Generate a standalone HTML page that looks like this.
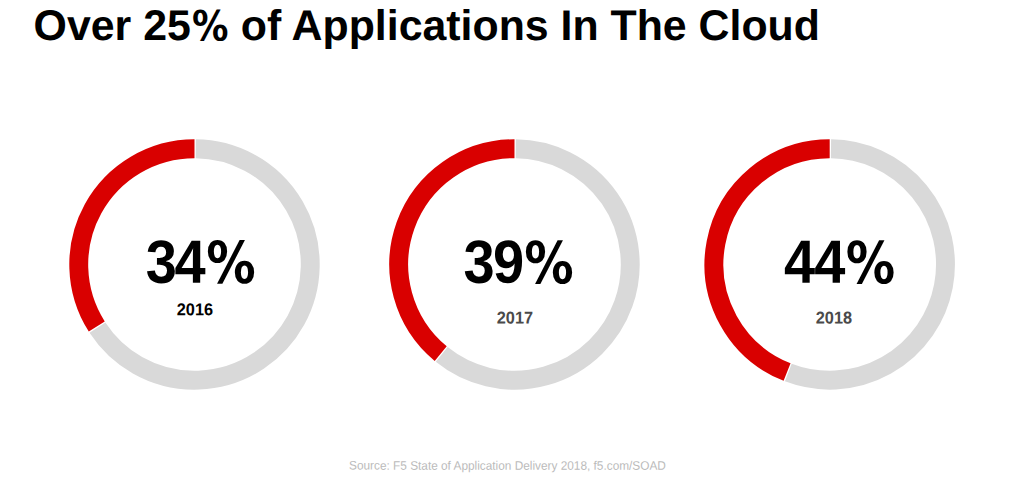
<!DOCTYPE html>
<html>
<head>
<meta charset="utf-8">
<title>Over 25% of Applications In The Cloud</title>
<style>
html,body{margin:0;padding:0;background:#fff;}
body{width:1024px;height:480px;overflow:hidden;}
svg{display:block;}
text{font-family:"Liberation Sans",Arial,sans-serif;white-space:pre;text-rendering:geometricPrecision;}
text.pc{font-family:"DejaVu Sans Condensed","DejaVu Sans",sans-serif;font-stretch:condensed;}
</style>
</head>
<body>
<svg width="1024" height="480" viewBox="0 0 1024 480">
<rect width="1024" height="480" fill="#fff"/>
<g fill="none" stroke-width="18.9">
<path d="M96.77 326.47A115.75 115.75 0 0 1 194.50 148.70" stroke="#d90000"/>
<path d="M195.80 148.71A115.75 115.75 0 1 1 97.47 327.57" stroke="#d9d9d9"/>
<path d="M440.72 353.64A115.75 115.75 0 0 1 514.50 148.70" stroke="#d90000"/>
<path d="M515.80 148.71A115.75 115.75 0 1 1 441.72 354.46" stroke="#d9d9d9"/>
<path d="M787.09 372.07A115.75 115.75 0 0 1 829.70 148.70" stroke="#d90000"/>
<path d="M831.00 148.71A115.75 115.75 0 1 1 788.30 372.54" stroke="#d9d9d9"/>
</g>
<text transform="translate(33.6 40.2) scale(1 1.0)" font-size="42.85" font-weight="bold" fill="#000" letter-spacing="0">Over 25</text>
<text transform="translate(191.9 40.5) rotate(0.05) scale(0.944 0.978)" font-size="42.85" font-weight="bold" fill="#000" class="pc">%</text>
<text transform="translate(240.8 40.2) scale(1 1.0)" font-size="42.85" font-weight="bold" fill="#000" letter-spacing="0">of Applications In The Cloud</text>
<text transform="translate(145.7 282.7) rotate(0.05) scale(1 1.09)" font-size="56" font-weight="bold" fill="#000" letter-spacing="-2.4">34</text>
<text transform="translate(206.2 283.0) rotate(0.05) scale(0.945 1.0)" font-size="58" font-weight="bold" fill="#000" class="pc">%</text>
<text transform="translate(463.4 282.7) rotate(0.05) scale(1 1.09)" font-size="56" font-weight="bold" fill="#000" letter-spacing="-1.6">39</text>
<text transform="translate(524.2 283.2) rotate(0.05) scale(0.945 1.0)" font-size="58" font-weight="bold" fill="#000" class="pc">%</text>
<text transform="translate(784.0 282.7) rotate(0.05) scale(1 1.09)" font-size="56" font-weight="bold" fill="#000" letter-spacing="-0.8">44</text>
<text transform="translate(845.7 283.2) rotate(0.05) scale(0.945 1.0)" font-size="58" font-weight="bold" fill="#000" class="pc">%</text>
<text transform="translate(176.8 315.2) rotate(0.05) scale(1 1.05)" font-size="16.3" font-weight="bold" fill="#000" letter-spacing="0">2016</text>
<text transform="translate(496.8 323.6) rotate(0.05) scale(1 1.05)" font-size="16.3" font-weight="bold" fill="#4a4a4a" letter-spacing="0">2017</text>
<text transform="translate(815.8 323.6) rotate(0.05) scale(1 1.05)" font-size="16.3" font-weight="bold" fill="#4a4a4a" letter-spacing="0">2018</text>
<text transform="translate(349 469.6) rotate(0.05) scale(1 1.04)" font-size="11.84" font-weight="normal" fill="#bbbbbb" letter-spacing="0">Source: F5 State of Application Delivery 2018, f5.com/SOAD</text>
</svg>
</body>
</html>
